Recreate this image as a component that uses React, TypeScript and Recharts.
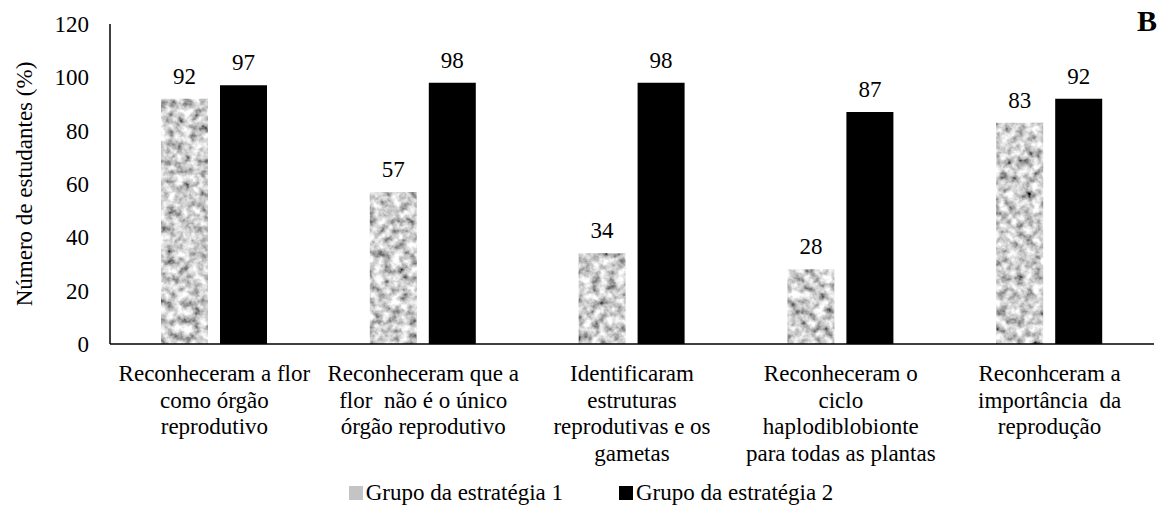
import { BarChart, Bar, XAxis, YAxis, LabelList, Legend } from "recharts";

const categoryLines: string[][] = [
  ["Reconheceram a flor", "como órgão", "reprodutivo"],
  ["Reconheceram que a", "flor  não é o único", "órgão reprodutivo"],
  ["Identificaram", "estruturas", "reprodutivas e os", "gametas"],
  ["Reconheceram o", "ciclo", "haplodiblobionte", "para todas as plantas"],
  ["Reconhceram a", "importância  da", "reprodução"],
];
const grupo1 = [92, 57, 34, 28, 83];
const grupo2 = [97, 98, 98, 87, 92];
const yTicks = [0, 20, 40, 60, 80, 100, 120];

const SERIES = [
  { key: "g1", name: "Grupo da estratégia 1", fill: "url(#tex)" },
  { key: "g2", name: "Grupo da estratégia 2", fill: "#000000" },
];

const FONT = "'Liberation Serif', 'Times New Roman', serif";

const data = categoryLines.map((lines, i) => ({
  cat: String(i),
  g1: grupo1[i],
  g2: grupo2[i],
}));

function CategoryTick({ x, y, payload }: { x?: number; y?: number; payload?: { value: string } }) {
  const lines = categoryLines[Number(payload?.value ?? 0)];
  return (
    <text x={x} y={(y ?? 0) + 29} textAnchor="middle" fill="#000" fontSize={23} fontFamily={FONT}>
      {lines.map((l, i) => (
        <tspan key={i} x={x} dy={i === 0 ? 0 : 26.5} style={{ whiteSpace: "pre" }}>
          {l}
        </tspan>
      ))}
    </text>
  );
}

function LegendContent() {
  return (
    <div style={{ display: "flex", justifyContent: "center", gap: 56, fontFamily: FONT, fontSize: 23, paddingLeft: 18 }}>
      {SERIES.map((s) => (
        <span key={s.key} style={{ display: "flex", alignItems: "center", gap: 3 }}>
          <svg width={14} height={14}>
            <rect width={14} height={14} fill={s.key === "g1" ? "#c4c4c4" : s.fill} />
          </svg>
          <span>{s.name}</span>
        </span>
      ))}
    </div>
  );
}

export default function App() {
  return (
    <div style={{ position: "absolute", left: 0, top: 0, width: 1166, height: 524, background: "#fff" }}>
      <BarChart
        width={1166}
        height={524}
        data={data}
        margin={{ top: 24, right: 12, left: 10, bottom: 18 }}
        barSize={47}
        barGap={12}
      >
        <defs>
          <filter id="noise" x="0" y="0" width="100%" height="100%">
            <feTurbulence type="fractalNoise" baseFrequency="0.12" numOctaves={3} seed={7} />
            <feColorMatrix
              type="matrix"
              values="1.6 0 0 0 -0.18  1.6 0 0 0 -0.18  1.6 0 0 0 -0.18  0 0 0 0 1"
            />
          </filter>
          <pattern id="tex" patternUnits="userSpaceOnUse" x={0} y={0} width={1166} height={524}>
            <rect width={1166} height={524} filter="url(#noise)" />
          </pattern>
        </defs>
        <XAxis
          dataKey="cat"
          height={136}
          tickLine={false}
          axisLine={{ stroke: "#000", strokeWidth: 1.5 }}
          tick={<CategoryTick />}
          interval={0}
        />
        <YAxis
          width={100}
          domain={[0, 120]}
          ticks={yTicks}
          tickLine={false}
          tickMargin={15}
          axisLine={{ stroke: "#000", strokeWidth: 1.5 }}
          tick={{ fill: "#000", fontSize: 23, fontFamily: FONT }}
          label={{
            value: "Número de estudantes (%)",
            angle: -90,
            position: "center",
            dx: -36,
            style: { fill: "#000", fontSize: 23, fontFamily: FONT, textAnchor: "middle" },
          }}
        />
        <Legend verticalAlign="bottom" height={26} content={<LegendContent />} />
        {SERIES.map((s) => (
          <Bar key={s.key} dataKey={s.key} name={s.name} fill={s.fill} isAnimationActive={false}>
            <LabelList
              dataKey={s.key}
              position="top"
              offset={15}
              style={{ fill: "#000", fontSize: 23, fontFamily: FONT }}
            />
          </Bar>
        ))}
      </BarChart>
      <div
        style={{
          position: "absolute",
          left: 1137,
          top: 6,
          fontFamily: FONT,
          fontWeight: "bold",
          fontSize: 30,
          lineHeight: 1,
        }}
      >
        B
      </div>
    </div>
  );
}
